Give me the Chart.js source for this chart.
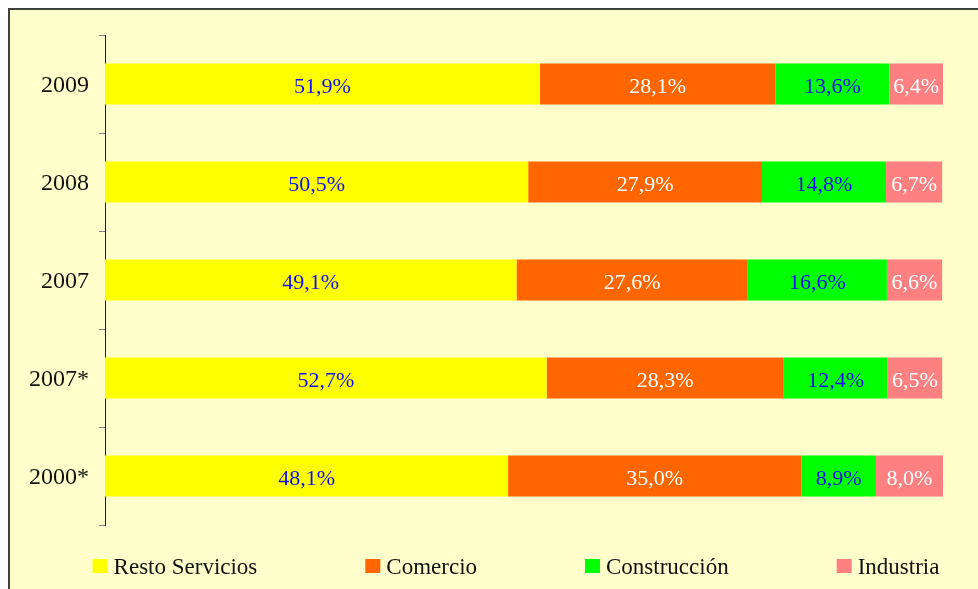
<!DOCTYPE html>
<html>
<head>
<meta charset="utf-8">
<script src="https://cdn.jsdelivr.net/npm/chart.js@4.4.1/dist/chart.umd.min.js"></script>
<style>
    html, body { margin: 0; padding: 0; overflow: hidden; background: #ffffff; }
    #frame {
        position: absolute; left: 8px; top: 8px;
        width: 1012px; height: 600px;
        border: 2px solid #404040;
        background: #ffffcc;
    }
    #chart { display: block; }
</style>
</head>
<body>
<div id="frame"><canvas id="chart" width="1012" height="600"></canvas></div>
<script>
// 데이터
const years = ['2009', '2008', '2007', '2007*', '2000*'];
const restoServicios = [51.9, 50.5, 49.1, 52.7, 48.1];
const comercio = [28.1, 27.9, 27.6, 28.3, 35.0];
const construccion = [13.6, 14.8, 16.6, 12.4, 8.9];
const industria = [6.4, 6.7, 6.6, 6.5, 8.0];

const FONT = '"Liberation Serif", "Times New Roman", serif';

// 막대 안의 퍼센트 라벨
const barLabels = {
    id: 'barLabels',
    afterDatasetsDraw(chart) {
        const ctx = chart.ctx;
        ctx.save();
        ctx.font = '22px ' + FONT;
        ctx.textAlign = 'center';
        ctx.textBaseline = 'middle';
        chart.data.datasets.forEach((ds, i) => {
            const meta = chart.getDatasetMeta(i);
            meta.data.forEach((bar, j) => {
                const text = ds.data[j].toFixed(1).replace('.', ',') + '%';
                ctx.fillStyle = ds.labelColor;
                ctx.fillText(text, (bar.x + bar.base) / 2, bar.y + 3);
            });
        });
        ctx.restore();
    }
};

// 아래쪽 범례 (항목 간격이 넓어서 직접 그림)
const bottomLegend = {
    id: 'bottomLegend',
    afterDraw(chart) {
        const ctx = chart.ctx;
        const box = 15, gap = 6, spacing = 108;
        ctx.save();
        ctx.font = '23px ' + FONT;
        ctx.textBaseline = 'middle';
        const items = chart.data.datasets.map(ds => ({
            text: ds.label,
            color: ds.backgroundColor,
            w: box + gap + ctx.measureText(ds.label).width
        }));
        const total = items.reduce((s, it) => s + it.w, 0) + spacing * (items.length - 1);
        let x = (chart.width - total) / 2;
        const y = 556;
        items.forEach(it => {
            ctx.fillStyle = it.color;
            ctx.fillRect(x, y - 7, box, 14);
            ctx.fillStyle = '#111111';
            ctx.fillText(it.text, x + box + gap, y + 2);
            x += it.w + spacing;
        });
        ctx.restore();
    }
};

new Chart(document.getElementById('chart'), {
    type: 'bar',
    data: {
        labels: years,
        datasets: [
            { label: 'Resto Servicios', data: restoServicios, backgroundColor: '#ffff00', labelColor: '#1010ee' },
            { label: 'Comercio', data: comercio, backgroundColor: '#ff6600', labelColor: '#ffffff' },
            { label: 'Construcción', data: construccion, backgroundColor: '#00ff00', labelColor: '#1010ee' },
            { label: 'Industria', data: industria, backgroundColor: '#ff8080', labelColor: '#ffffff' }
        ]
    },
    options: {
        indexAxis: 'y',
        responsive: false,
        animation: false,
        categoryPercentage: 1,
        barPercentage: 0.42,
        layout: { padding: { left: 0, right: 79, top: 25, bottom: 85 } },
        plugins: {
            legend: { display: false },
            tooltip: { enabled: false }
        },
        scales: {
            x: {
                stacked: true,
                min: 0,
                max: 100,
                display: false
            },
            y: {
                stacked: true,
                border: { display: true, color: '#202020', width: 1 },
                grid: {
                    drawOnChartArea: false,
                    tickLength: 6,
                    color: '#808080',
                    offset: true
                },
                ticks: {
                    color: '#111111',
                    padding: 10,
                    labelOffset: 2,
                    font: { family: FONT, size: 24 }
                },
                afterFit(scale) { scale.width = 95; }
            }
        }
    },
    plugins: [barLabels, bottomLegend]
});
</script>
</body>
</html>
